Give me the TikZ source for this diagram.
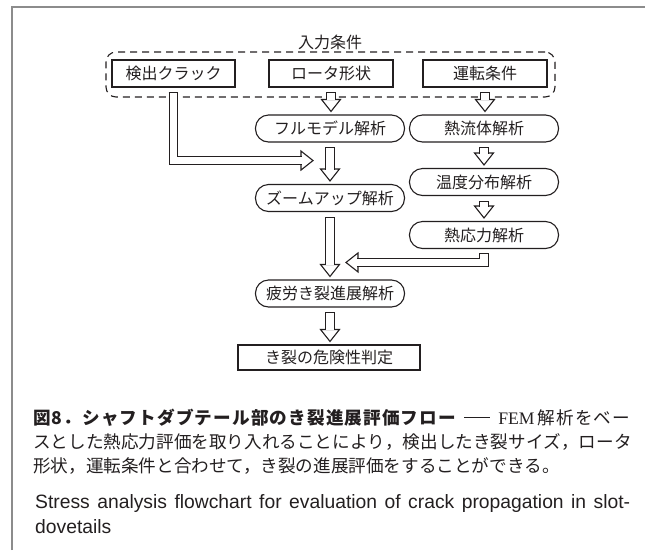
\documentclass[tikz,border=0pt]{standalone}
\usepackage{fontspec}
\newfontfamily\jp{Noto Sans CJK JP}
\newfontfamily\en{Liberation Sans}
\newfontfamily\enserif{Liberation Serif}
\usetikzlibrary{calc}
\definecolor{ink}{HTML}{231F20}
\definecolor{framegray}{HTML}{8C8C8C}
\makeatletter
\newcommand\spreadtxt[1]{\@tfor\spr@c:=#1\do{\spr@c\hskip 0pt plus 1pt\relax}\unskip}
\makeatother
\tikzset{
  lbl/.style={font=\jp\fontsize{16}{16}\selectfont, inner sep=0pt, text=ink},
  sqbox/.style={lbl, draw=ink, line width=1.1pt, minimum width=124pt, minimum height=27pt},
  rdbox/.style={lbl, draw=ink, line width=1.1pt, rounded corners=13pt, minimum width=149pt, minimum height=27pt},
  dashbox/.style={draw=ink, line width=1.1pt, dash pattern=on 7pt off 5pt, rounded corners=10pt, inner sep=0pt},
  shaft/.style={draw=ink, line width=1.1pt, double=white, double distance=7.6pt},
  capline/.style={draw=ink, line width=1.1pt},
  hhead/.pic={\draw[ink, line width=1.1pt, fill=white, line join=miter] (0,0) -- (-12,9.5) -- (-12,-9.5) -- cycle;},
  capjp/.style={font=\jp\fontsize{17.6}{17.6}\selectfont, inner sep=0pt, text=ink, anchor=base west},
  capen/.style={font=\en\fontsize{19.3}{19.3}\selectfont, inner sep=0pt, text=ink, anchor=base west},
}
\newcommand\vflow[2]{%
  \coordinate (vs) at ($(#1.south)+(0,5)$);
  \coordinate (vt) at ($(vs |- #2.north)+(0,-3)$);
  \pic[rotate=-90] at (vt) {hhead};
  \draw[shaft] (vs) -- ($(vt)+(0,-11)$);
  \draw[capline] ($(vs)+(-4.9,0)$) -- ($(vs)+(4.9,0)$);
}
\begin{document}
\begin{tikzpicture}[x=1pt, y=-1pt]
\useasboundingbox (0,0) rectangle (645,550);
% outer frame
\draw[framegray, line width=1.4pt] (12,550) -- (12,7) -- (645,7);

% input group
\node[lbl, font=\jp\fontsize{16}{16}\selectfont] (title) at (330,42) {入力条件};
\node[dashbox, minimum width=449pt, minimum height=45pt] (inputs) at (330.5,74.5) {};
\node[sqbox, minimum width=123pt] (crack) at (173.5,73.5) {検出クラック};
\node[sqbox] (rotor) at (331,73.5) {ロータ形状};
\node[sqbox] (cond) at (485,73.5) {運転条件};

% analysis nodes
\node[rdbox] (full) at (330,128.5) {フルモデル解析};
\node[rdbox] (thermo) at (484,128.5) {熱流体解析};
\node[rdbox] (temp) at (484,182) {温度分布解析};
\node[rdbox] (zoom) at (330,198) {ズームアップ解析};
\node[rdbox] (stress) at (484,235) {熱応力解析};
\node[rdbox] (fatigue) at (330,293.5) {疲労き裂進展解析};
\node[sqbox, minimum width=182pt, minimum height=25pt] (judge) at (329,357.5) {き裂の危険性判定};

% vertical hollow arrows
\vflow{rotor}{full}
\vflow{cond}{thermo}
\vflow{full}{zoom}
\vflow{thermo}{temp}
\vflow{temp}{stress}
\vflow{zoom}{fatigue}
\vflow{fatigue}{judge}

% crack -> zoom-up input (bent arrow)
\coordinate (cs) at ($(crack.south)+(0,5)$);
\coordinate (ct) at ($(full.south)+(-17,18)$);
\pic at (ct) {hhead};
\draw[shaft] (cs) |- ($(ct)+(-11,0)$);
\draw[capline] ($(cs)+(-4.9,0)$) -- ($(cs)+(4.9,0)$);

% thermal stress -> fatigue input (bent arrow)
\coordinate (ss) at ($(stress.south)+(0,4)$);
\coordinate (st) at ($(fatigue.north)+(16,-17)$);
\pic[rotate=180] at (st) {hhead};
\draw[shaft] (ss) |- ($(st)+(11,0)$);
\draw[capline] ($(ss)+(-4.9,0)$) -- ($(ss)+(4.9,0)$);

% caption
\node[capjp] (cap1) at (33,424) {\makebox[597pt][s]{{\bfseries\spreadtxt{図8．シャフトダブテール部のき裂進展評価フロー}}\hspace{7pt plus 1pt}\raisebox{6pt}{\rule{26pt}{0.8pt}}\hspace{7pt plus 1pt}{\enserif FEM}\hspace{2pt plus 1pt}\spreadtxt{解析をベー}}};
\node[capjp] (cap2) at (33,448) {\makebox[597pt][s]{\spreadtxt{スとした熱応力評価を取り入れることにより，検出したき裂サイズ，ロータ}}};
\node[capjp] (cap3) at (33,472) {形状，運転条件と合わせて，き裂の進展評価をすることができる。};
\node[capen] (cap4) at (35,508) {\makebox[595pt][s]{Stress analysis flowchart for evaluation of crack propagation in slot-}};
\node[capen] (cap5) at (35,533) {dovetails};
\end{tikzpicture}
\end{document}
